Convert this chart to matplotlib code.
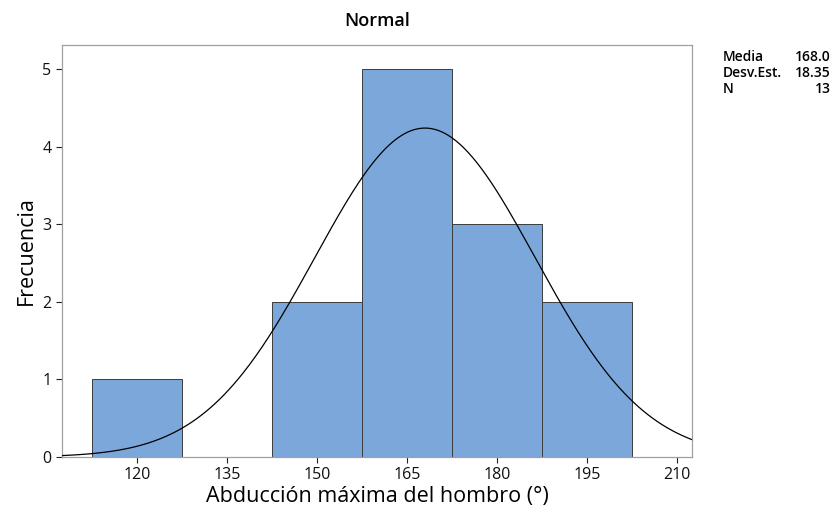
import numpy as np
import matplotlib
matplotlib.use('Agg')
import matplotlib.pyplot as plt

bin_centers = [120, 135, 150, 165, 180, 195]
counts = [1, 0, 2, 5, 3, 2]
bin_width = 15
media = 168.0
desv = 18.35
n = 13
xticks = [120, 135, 150, 165, 180, 195, 210]
yticks = [0, 1, 2, 3, 4, 5]

plt.rcParams['font.family'] = ['Open Sans', 'DejaVu Sans']

fig = plt.figure(figsize=(8.33, 5.12), dpi=100)
ax = fig.add_axes([0.0744, 0.1074, 0.7563, 0.8047])

ax.bar(bin_centers, counts, width=bin_width, color='#7BA7DA', edgecolor='#3c3c3c', linewidth=0.7, zorder=2)

x = np.linspace(107.5, 212.5, 400)
pdf = np.exp(-0.5 * ((x - media) / desv) ** 2) / (desv * np.sqrt(2 * np.pi))
ax.plot(x, n * bin_width * pdf, color='black', linewidth=0.9, zorder=3)

ax.set_xlim(107.5, 212.5)
ax.set_ylim(0, 5.31)
ax.set_xticks(xticks)
ax.set_yticks(yticks)
ax.tick_params(labelsize=11.5, colors='#222222', length=4, width=0.8)
for t in ax.get_xticklabels() + ax.get_yticklabels():
    t.set_color('#111111')
for s in ax.spines.values():
    s.set_color('#a0a0a0')
    s.set_linewidth(0.9)

ax.set_xlabel('Abducción máxima del hombro (°)', fontsize=15.5, labelpad=2)
ax.set_ylabel('Frecuencia', fontsize=15.5, labelpad=4)
ax.set_title('Normal', fontsize=13, fontweight='semibold', pad=14)

rows = [('Media', '%.1f' % media), ('Desv.Est.', '%.2f' % desv), ('N', '%d' % n)]
for i, (lab, val) in enumerate(rows):
    y = 0.888 - i * 0.0312
    fig.text(0.868, y, lab, fontsize=10, fontweight='semibold', va='center')
    fig.text(0.997, y, val, fontsize=10, fontweight='semibold', ha='right', va='center')

fig.savefig('out.png', dpi=100)
